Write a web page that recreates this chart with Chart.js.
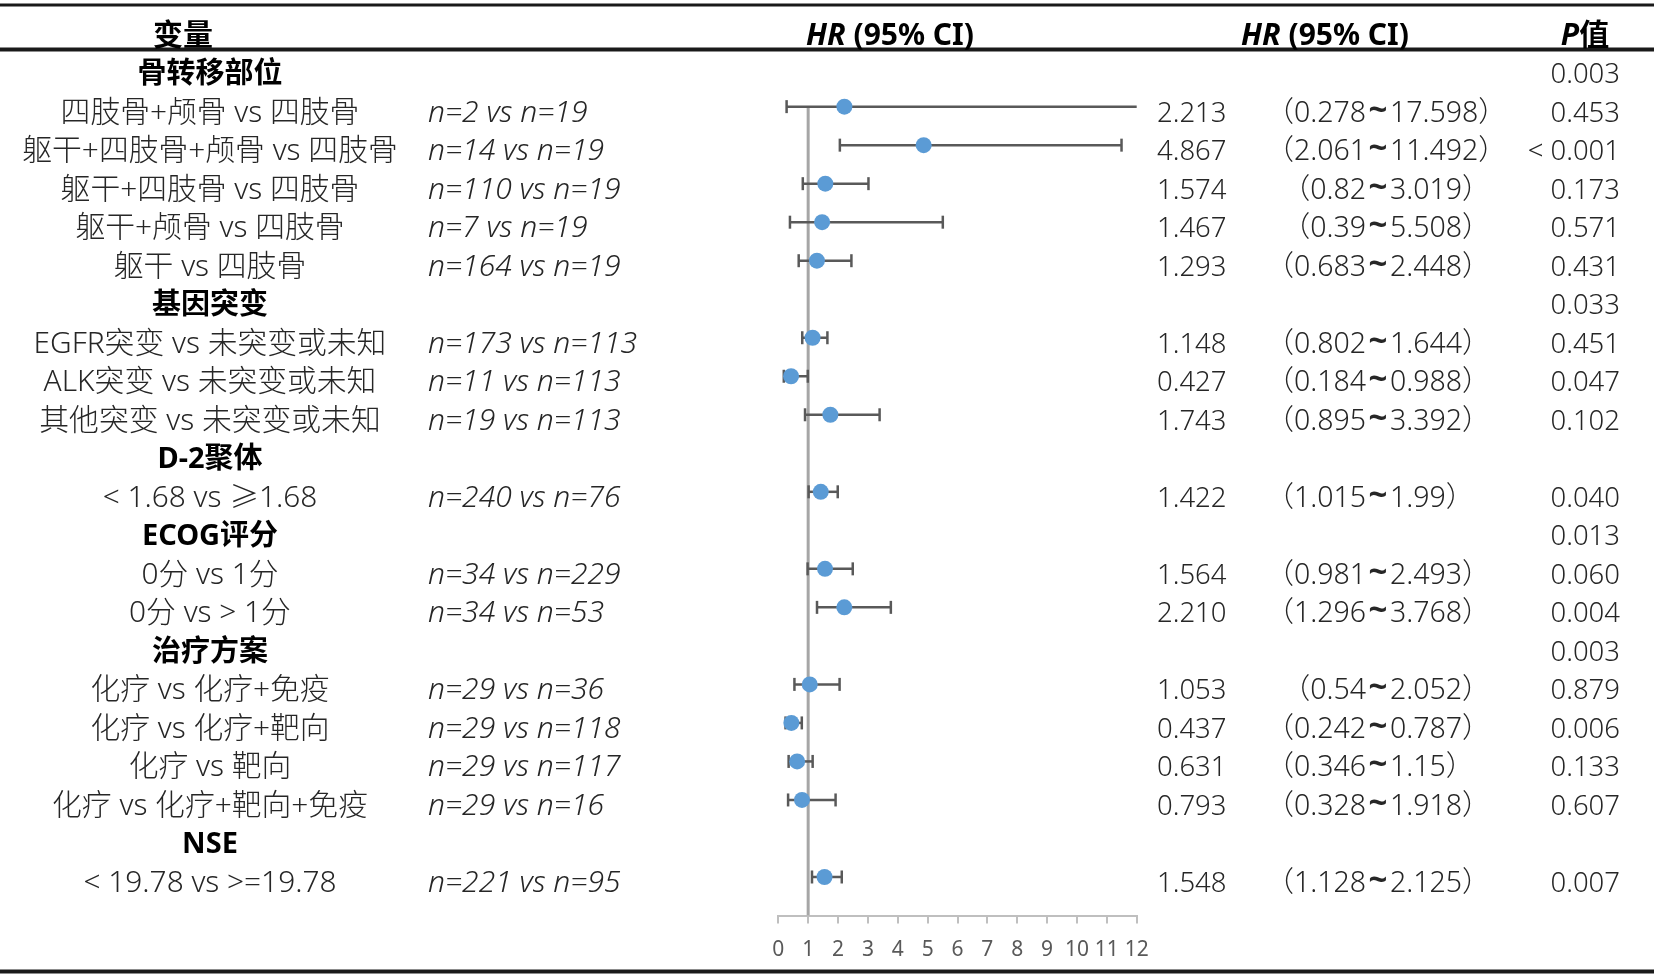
<!DOCTYPE html>
<html><head><meta charset="utf-8">
<script src="https://cdn.jsdelivr.net/npm/chart.js@4.4.0/dist/chart.umd.min.js"></script>
<style>html,body{margin:0;padding:0;background:#fff;}#wrap{width:1654px;height:980px;position:relative;}</style>
</head><body><div id="wrap"><canvas id="c"></canvas></div>
<script>
// ---------- data ----------
const variables = [
  "骨转移部位",
  "四肢骨+颅骨 vs 四肢骨",
  "躯干+四肢骨+颅骨 vs 四肢骨",
  "躯干+四肢骨 vs 四肢骨",
  "躯干+颅骨 vs 四肢骨",
  "躯干 vs 四肢骨",
  "基因突变",
  "EGFR突变 vs 未突变或未知",
  "ALK突变 vs 未突变或未知",
  "其他突变 vs 未突变或未知",
  "D-2聚体",
  "< 1.68 vs ≥1.68",
  "ECOG评分",
  "0分 vs 1分",
  "0分 vs > 1分",
  "治疗方案",
  "化疗 vs 化疗+免疫",
  "化疗 vs 化疗+靶向",
  "化疗 vs 靶向",
  "化疗 vs 化疗+靶向+免疫",
  "NSE",
  "< 19.78 vs >=19.78"
];
const isGroup = [1,0,0,0,0,0,1,0,0,0,1,0,1,0,0,1,0,0,0,0,1,0];
const sampleSizes = [
  "", "n=2 vs n=19", "n=14 vs n=19", "n=110 vs n=19", "n=7 vs n=19", "n=164 vs n=19",
  "", "n=173 vs n=113", "n=11 vs n=113", "n=19 vs n=113",
  "", "n=240 vs n=76",
  "", "n=34 vs n=229", "n=34 vs n=53",
  "", "n=29 vs n=36", "n=29 vs n=118", "n=29 vs n=117", "n=29 vs n=16",
  "", "n=221 vs n=95"
];
const hr = [null, 2.213, 4.867, 1.574, 1.467, 1.293, null, 1.148, 0.427, 1.743, null, 1.422, null, 1.564, 2.210, null, 1.053, 0.437, 0.631, 0.793, null, 1.548];
const ciLow = [null, 0.278, 2.061, 0.82, 0.39, 0.683, null, 0.802, 0.184, 0.895, null, 1.015, null, 0.981, 1.296, null, 0.54, 0.242, 0.346, 0.328, null, 1.128];
const ciHigh = [null, 17.598, 11.492, 3.019, 5.508, 2.448, null, 1.644, 0.988, 3.392, null, 1.99, null, 2.493, 3.768, null, 2.052, 0.787, 1.15, 1.918, null, 2.125];
const pValues = ["0.003", "0.453", "< 0.001", "0.173", "0.571", "0.431", "0.033", "0.451", "0.047", "0.102", "", "0.040", "0.013", "0.060", "0.004", "0.003", "0.879", "0.006", "0.133", "0.607", "", "0.007"];
const xTicks = [0,1,2,3,4,5,6,7,8,9,10,11,12];
const refValue = 1;

// ---------- styling ----------
const SANS = '"Noto Sans", "Noto Sans CJK SC", sans-serif';
const TEXT = '#262626';
const COL = { label: 210, n: 428, hr: 1157, tilde: 1378, p: 1620, hdrVar: 183, hdrHR1: 890, hdrHR2: 1325, hdrP: 1585 };

const points = [];
hr.forEach((v, i) => { if (v !== null) points.push({ x: v, y: i }); });

const tablePlugin = {
  id: 'forestTable',
  beforeDatasetDraw(chart, args) {
    if (args.index !== 0) return;
    const ctx = chart.ctx, xs = chart.scales.x, ys = chart.scales.y;
    const xmin = xs.min, xmax = xs.max;
    ctx.save();
    ctx.strokeStyle = '#595959';
    ctx.lineWidth = 2.5;
    hr.forEach((v, i) => {
      if (v === null) return;
      const y = ys.getPixelForValue(i);
      const lo = Math.max(ciLow[i], xmin), hi = Math.min(ciHigh[i], xmax);
      const x1 = xs.getPixelForValue(lo), x2 = xs.getPixelForValue(hi);
      ctx.beginPath(); ctx.moveTo(x1, y); ctx.lineTo(x2, y); ctx.stroke();
      const cap = 6.5;
      if (ciLow[i] >= xmin) { ctx.beginPath(); ctx.moveTo(x1, y - cap); ctx.lineTo(x1, y + cap); ctx.stroke(); }
      if (ciHigh[i] <= xmax) { ctx.beginPath(); ctx.moveTo(x2, y - cap); ctx.lineTo(x2, y + cap); ctx.stroke(); }
    });
    ctx.restore();
  },
  afterDraw(chart) {
    const ctx = chart.ctx, ys = chart.scales.y;
    const W = chart.width;
    ctx.save();
    // rules
    ctx.strokeStyle = '#1a1a1a';
    [[5, 3], [49.5, 4], [971.5, 4]].forEach(([y, w]) => {
      ctx.lineWidth = w; ctx.beginPath(); ctx.moveTo(0, y); ctx.lineTo(W, y); ctx.stroke();
    });
    // header
    const hy = ys.getPixelForValue(-1) + 15;
    ctx.fillStyle = '#000';
    ctx.textBaseline = 'alphabetic';
    ctx.font = `bold 30px ${SANS}`;
    ctx.textAlign = 'center';
    ctx.fillText('变量', COL.hdrVar, hy);
    const mixed = (cx, a, b) => {
      ctx.textAlign = 'left';
      ctx.font = `italic bold 30px ${SANS}`; const wa = ctx.measureText(a).width;
      ctx.font = `bold 30px ${SANS}`; const wb = ctx.measureText(b).width;
      const x0 = cx - (wa + wb) / 2;
      ctx.font = `italic bold 30px ${SANS}`; ctx.fillText(a, x0, hy);
      ctx.font = `bold 30px ${SANS}`; ctx.fillText(b, x0 + wa, hy);
    };
    mixed(COL.hdrHR1, 'HR', ' (95% CI)');
    mixed(COL.hdrHR2, 'HR', ' (95% CI)');
    mixed(COL.hdrP, 'P', '值');
    // rows
    variables.forEach((lab, i) => {
      const y = ys.getPixelForValue(i) + 15;
      ctx.fillStyle = isGroup[i] ? '#000' : TEXT;
      ctx.textAlign = 'center';
      ctx.font = isGroup[i] ? `bold 29px ${SANS}` : `300 29.8px ${SANS}`;
      ctx.fillText(lab, COL.label, y);
      ctx.fillStyle = TEXT;
      if (sampleSizes[i]) {
        ctx.textAlign = 'left';
        ctx.font = `italic 300 30px ${SANS}`;
        ctx.fillText(sampleSizes[i], COL.n, y);
      }
      if (hr[i] !== null) {
        ctx.font = `300 27.5px ${SANS}`;
        ctx.textAlign = 'left';
        ctx.fillText(hr[i].toFixed(3), COL.hr, y);
        ctx.font = `300 28.5px ${SANS}`;
        ctx.textAlign = 'right';
        ctx.fillText('（' + String(ciLow[i]), COL.tilde - 12, y);
        ctx.textAlign = 'left';
        ctx.fillText(String(ciHigh[i]) + '）', COL.tilde + 12, y);
        ctx.textAlign = 'center';
        ctx.font = `bold 33px ${SANS}`;
        ctx.fillText('~', COL.tilde, y - 1);
      }
      if (pValues[i]) {
        ctx.font = `300 27.5px ${SANS}`;
        ctx.textAlign = 'right';
        ctx.fillText(pValues[i], COL.p, y);
      }
    });
    ctx.restore();
  }
};

new Chart(document.getElementById('c'), {
  type: 'scatter',
  data: {
    datasets: [
      { data: points, order: 0, pointRadius: 8, pointHoverRadius: 8, backgroundColor: '#5B9BD5', borderWidth: 0, clip: false },
      { type: 'line', data: [{ x: refValue, y: 1 }, { x: refValue, y: 22 }], order: 1, borderColor: '#A6A6A6', borderWidth: 3, pointRadius: 0, fill: false }
    ]
  },
  options: {
    responsive: true, maintainAspectRatio: false, animation: false, devicePixelRatio: 1,
    layout: { padding: { left: 778.3, right: 517.3, top: 29.6, bottom: 14.5 } },
    plugins: { legend: { display: false }, tooltip: { enabled: false }, title: { display: false } },
    scales: {
      x: {
        type: 'linear', min: 0, max: 12, position: 'bottom',
        afterFit: (s) => { s.height = 50; },
        afterBuildTicks: (s) => { s.ticks = xTicks.map(v => ({ value: v })); },
        grid: { drawOnChartArea: false, drawTicks: true, tickLength: 8, color: '#BFBFBF', lineWidth: 2 },
        border: { display: true, color: '#BFBFBF', width: 2 },
        ticks: { autoSkip: false, maxRotation: 0, padding: 14, color: '#595959', font: { family: SANS, size: 21 } }
      },
      y: { type: 'linear', reverse: true, min: -1, max: 22, display: false }
    }
  },
  plugins: [tablePlugin]
});
</script>
</body></html>
